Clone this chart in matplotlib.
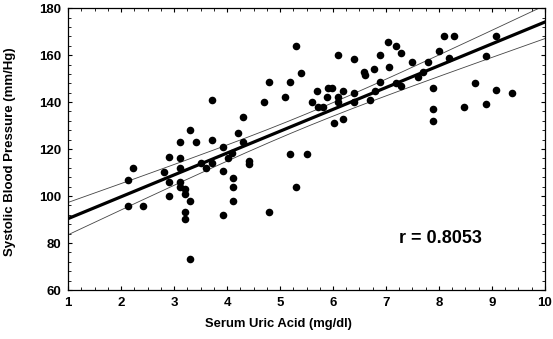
import numpy as np
import matplotlib
matplotlib.use("Agg")
import matplotlib.pyplot as plt
from matplotlib.ticker import MultipleLocator

plt.rcParams['font.family'] = ['Liberation Sans', 'DejaVu Sans']
plt.rcParams['font.weight'] = 'bold'

# serum uric acid (mg/dl) and systolic pressure (mm/Hg) per subject
uric_acid = [
    3.72, 3.31, 3.11, 3.41, 3.72, 3.93, 2.22, 2.13, 2.91, 3.11,
    2.82, 3.11, 2.91, 3.11, 3.11, 3.21, 3.21, 2.91, 3.31, 2.13,
    2.42, 3.21, 3.21, 3.31, 3.50, 3.60, 3.72, 3.92, 3.92, 4.01,
    4.10, 4.11, 4.11, 4.11, 4.41, 4.41, 4.80, 5.19, 5.51, 5.30,
    4.31, 4.21, 4.31, 4.70, 4.80, 5.10, 5.19, 5.30, 5.40, 5.61,
    5.70, 5.72, 5.82, 5.90, 5.99, 5.89, 6.10, 6.10, 6.19, 6.40,
    6.40, 6.58, 6.69, 6.79, 6.89, 6.78, 6.89, 7.04, 7.06, 6.40,
    6.10, 6.01, 6.19, 7.18, 7.28, 7.50, 7.18, 7.28, 7.60, 7.69,
    7.79, 8.00, 8.09, 8.28, 8.19, 7.89, 7.89, 7.89, 8.48, 8.68,
    8.88, 8.88, 9.08, 9.08, 9.38, 6.60,
]
systolic = [
    140.9, 128.1, 122.8, 122.8, 123.8, 120.7, 111.8, 106.7, 116.7, 116.0,
    110.1, 111.8, 105.8, 106.1, 104.0, 103.0, 100.9, 100.1, 97.7, 95.9,
    95.9, 93.1, 90.1, 73.2, 113.9, 111.8, 113.9, 110.8, 91.9, 116.0,
    118.4, 107.8, 103.7, 97.9, 114.9, 113.6, 93.1, 117.9, 117.9, 103.7,
    123.1, 126.7, 133.7, 139.9, 148.6, 142.0, 148.6, 164.0, 152.2, 139.9,
    144.8, 138.0, 138.0, 145.8, 145.8, 142.3, 142.3, 140.1, 144.8, 144.0,
    140.1, 152.9, 140.9, 144.8, 148.6, 153.9, 160.0, 165.7, 155.0, 158.2,
    160.0, 130.9, 132.8, 164.0, 161.0, 156.9, 148.2, 146.9, 150.8, 152.9,
    156.9, 161.7, 168.1, 168.1, 158.9, 145.8, 136.9, 132.0, 138.0, 148.0,
    139.0, 159.7, 168.1, 145.1, 144.0, 151.5,
]
r_label = "r = 0.8053"

x = np.array(uric_acid)
y = np.array(systolic)

# least squares line with 95% confidence band for the mean
slope, intercept = np.polyfit(x, y, 1)
n = len(x)
resid = y - (intercept + slope * x)
s = np.sqrt(np.sum(resid ** 2) / (n - 2))
sxx = np.sum((x - x.mean()) ** 2)
xs = np.linspace(1, 10, 200)
fit = intercept + slope * xs
half = 1.985 * s * np.sqrt(1 / n + (xs - x.mean()) ** 2 / sxx)

fig = plt.figure(figsize=(5.53, 3.39), dpi=100)
ax = fig.add_axes([0.123, 0.1445, 0.8625, 0.8315])

ax.scatter(x, y, s=30, color='black', zorder=3, linewidths=0)
ax.plot(xs, fit, color='black', lw=2.3, zorder=2)
ax.plot(xs, fit + half, color='#444444', lw=0.6, zorder=2)
ax.plot(xs, fit - half, color='#444444', lw=0.6, zorder=2)

ax.set_xlim(1, 10)
ax.set_ylim(60, 180)
ax.xaxis.set_major_locator(MultipleLocator(1))
ax.xaxis.set_minor_locator(MultipleLocator(0.25))
ax.yaxis.set_major_locator(MultipleLocator(20))
ax.yaxis.set_minor_locator(MultipleLocator(4))
ax.tick_params(which='both', direction='in', top=True, right=True,
               labelsize=9.5, pad=5)
ax.tick_params(which='major', length=3, width=0.8)
ax.tick_params(which='minor', length=2, width=0.6)
for lab in ax.get_xticklabels() + ax.get_yticklabels():
    lab.set_fontweight('bold')
for sp in ax.spines.values():
    sp.set_linewidth(0.9)

ax.set_xlabel('Serum Uric Acid (mg/dl)', fontsize=9.4, fontweight='bold')
ax.xaxis.set_label_coords(0.442, -0.099)
ax.set_ylabel('Systolic Blood Pressure (mm/Hg)', fontsize=9.5, fontweight='bold')
ax.yaxis.set_label_coords(-0.110, 0.49)
ax.text(8.02, 82, r_label, fontsize=13, fontweight='bold', ha='center', va='center')

fig.savefig('out.png', dpi=100)
